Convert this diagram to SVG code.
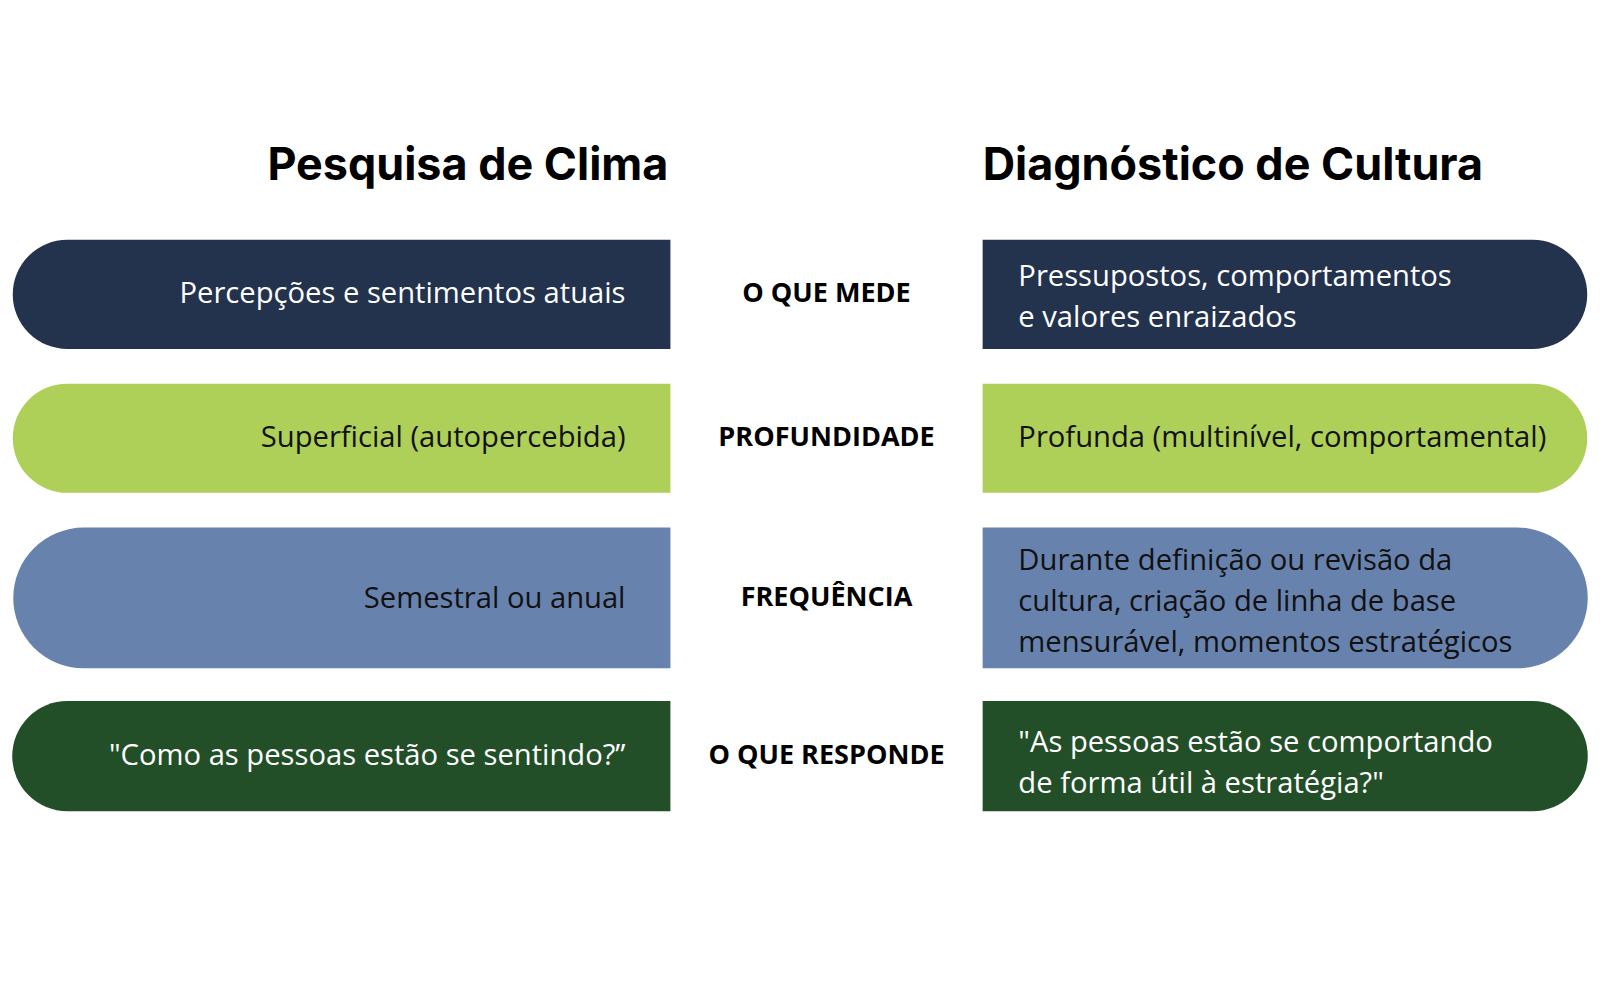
<svg xmlns="http://www.w3.org/2000/svg" width="1600" height="1000" viewBox="0 0 1600 1000">
<style>
.t{font-family:"Open Sans","Noto Sans",sans-serif;font-size:28.6px}
.h{font-family:Inter,"Liberation Sans",sans-serif;font-size:44px;font-weight:bold;fill:#000}
.c{font-family:"Open Sans","Noto Sans",sans-serif;font-size:26.5px;font-weight:bold;fill:#000;text-anchor:middle}
.w{fill:#fff}.k{fill:#111}
</style>
<rect width="1600" height="1000" fill="#fff"/>
<g transform="scale(1.0204)">
<g id="titles">
<text class="h" x="655" y="176" text-anchor="end">Pesquisa de Clima</text>
<text class="h" x="963" y="176">Diagnóstico de Cultura</text>
</g>
<g id="row1">
<path d="M657,235H66A53.5,53.5 0 0 0 66,342H657Z" fill="#23324d"/>
<text class="t w" x="613" y="297" text-anchor="end">Percepções e sentimentos atuais</text>
<text class="c" x="810" y="296">O QUE MEDE</text>
<path d="M963,235H1502A53.5,53.5 0 0 1 1502,342H963Z" fill="#23324d"/>
<text class="t w" x="998" y="280">Pressupostos, comportamentos</text>
<text class="t w" x="998" y="320">e valores enraizados</text>
</g>
<g id="row2">
<path d="M657,376H66A53.5,53.5 0 0 0 66,483H657Z" fill="#aecf58"/>
<text class="t k" x="613" y="438" text-anchor="end">Superficial (autopercebida)</text>
<text class="c" x="810" y="437">PROFUNDIDADE</text>
<path d="M963,376H1502A53.5,53.5 0 0 1 1502,483H963Z" fill="#aecf58"/>
<text class="t k" x="998" y="438">Profunda (multinível, comportamental)</text>
</g>
<g id="row3">
<path d="M657,517H82A69,69 0 0 0 82,655H657Z" fill="#6882ae"/>
<text class="t k" x="613" y="596" text-anchor="end">Semestral ou anual</text>
<text class="c" x="810" y="594">FREQUÊNCIA</text>
<path d="M963,517H1487A69,69 0 0 1 1487,655H963Z" fill="#6882ae"/>
<text class="t k" x="998" y="559">Durante definição ou revisão da</text>
<text class="t k" x="998" y="599">cultura, criação de linha de base</text>
<text class="t k" x="998" y="639">mensurável, momentos estratégicos</text>
</g>
<g id="row4">
<path d="M657,687H66A54,54 0 0 0 66,795H657Z" fill="#234f28"/>
<text class="t w" x="613" y="750" text-anchor="end">"Como as pessoas estão se sentindo?”</text>
<text class="c" x="810" y="749">O QUE RESPONDE</text>
<path d="M963,687H1502A54,54 0 0 1 1502,795H963Z" fill="#234f28"/>
<text class="t w" x="998" y="737">"As pessoas estão se comportando</text>
<text class="t w" x="998" y="777">de forma útil à estratégia?"</text>
</g>
<g id="connectors"/>
</g>
</svg>
